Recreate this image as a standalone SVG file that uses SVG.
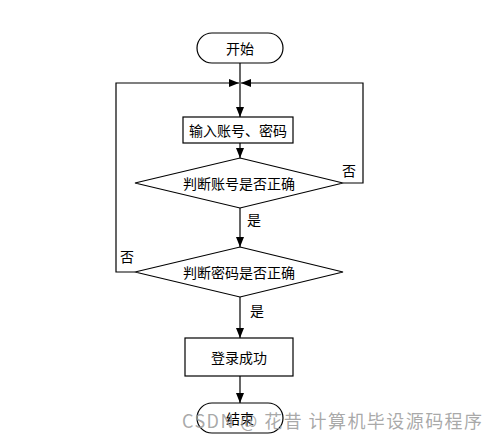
<svg xmlns="http://www.w3.org/2000/svg" width="499" height="439" viewBox="0 0 499 439">
<style>
.s{fill:#fff;stroke:#000;stroke-width:1.2}
.t{font-family:"Noto Sans CJK SC","Noto Sans",sans-serif;font-size:14px;fill:#000;text-anchor:middle;dominant-baseline:central}
.c{fill:none;stroke:#000;stroke-width:1.2}
</style>
<defs>
<marker id="a" viewBox="0 0 10 10" refX="10" refY="5" markerWidth="10" markerHeight="10" markerUnits="userSpaceOnUse" orient="auto"><path d="M0,1 L10,5 L0,9 z" fill="#000"/></marker>
</defs>
<rect width="499" height="439" fill="#fff"/>
<g id="connectors">
<path class="c" d="M240,63 V117" marker-end="url(#a)"/>
<path class="c" d="M240,143 V158" marker-end="url(#a)"/>
<path class="c" d="M240,208 V247" marker-end="url(#a)"/>
<path class="c" d="M240,297 V338" marker-end="url(#a)"/>
<path class="c" d="M240,376 V403" marker-end="url(#a)"/>
<path class="c" d="M343,183 H363 V83 H241" marker-end="url(#a)"/>
<path class="c" d="M135,272 H116 V83 H239" marker-end="url(#a)"/>
<text class="t" x="349" y="170">否</text>
<text class="t" x="254" y="219">是</text>
<text class="t" x="127" y="256">否</text>
<text class="t" x="257" y="310">是</text>
</g>
<g id="start"><rect class="s" x="197" y="33" width="86" height="30" rx="15"/><text class="t" x="240" y="48">开始</text></g>
<g id="input"><rect class="s" x="183" y="117" width="110" height="26"/><text class="t" x="238" y="130">输入账号、密码</text></g>
<g id="check1"><polygon class="s" points="240,158 343,183 240,208 135,183"/><text class="t" x="239" y="183">判断账号是否正确</text></g>
<g id="check2"><polygon class="s" points="240,247 343,272 240,297 135,272"/><text class="t" x="239" y="272">判断密码是否正确</text></g>
<g id="success"><rect class="s" x="185" y="338" width="108" height="38"/><text class="t" x="239" y="357">登录成功</text></g>
<g id="end"><rect class="s" x="197" y="403" width="86" height="30" rx="15"/><text class="t" x="240" y="418">结束</text></g>
<text x="182" y="428" textLength="300" lengthAdjust="spacing" font-family="'Noto Sans CJK SC','Noto Sans',sans-serif" font-size="18" fill="#9a9a9a" fill-opacity="0.85">CSDN @ 花昔  计算机毕设源码程序</text>
</svg>
